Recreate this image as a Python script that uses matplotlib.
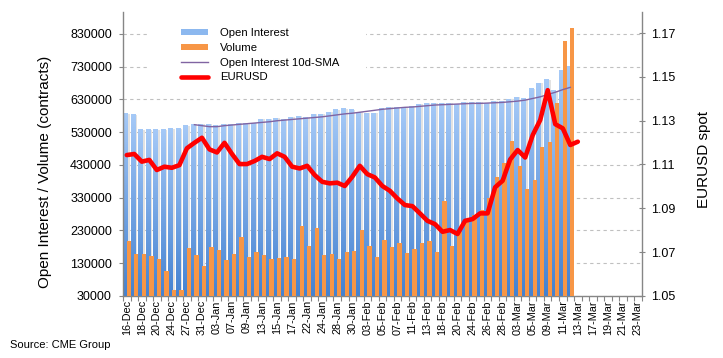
import numpy as np
import matplotlib
matplotlib.use('Agg')
import matplotlib.pyplot as plt
from matplotlib.colors import LinearSegmentedColormap
from matplotlib.lines import Line2D
from matplotlib.patches import Patch, Rectangle

plt.rcParams['font.family'] = ['Liberation Sans', 'DejaVu Sans']

categories = [
    '16-Dec', '17-Dec', '18-Dec', '19-Dec', '20-Dec', '23-Dec', '24-Dec', '26-Dec', '27-Dec', '30-Dec', '31-Dec',
    '02-Jan', '03-Jan', '06-Jan', '07-Jan', '08-Jan', '09-Jan', '10-Jan', '13-Jan', '14-Jan', '15-Jan', '16-Jan',
    '17-Jan', '21-Jan', '22-Jan', '23-Jan', '24-Jan', '27-Jan', '28-Jan', '29-Jan', '30-Jan', '31-Jan',
    '03-Feb', '04-Feb', '05-Feb', '06-Feb', '07-Feb', '10-Feb', '11-Feb', '12-Feb', '13-Feb', '14-Feb',
    '18-Feb', '19-Feb', '20-Feb', '21-Feb', '24-Feb', '25-Feb', '26-Feb', '27-Feb', '28-Feb',
    '02-Mar', '03-Mar', '04-Mar', '05-Mar', '06-Mar', '09-Mar', '10-Mar', '11-Mar', '12-Mar', '13-Mar',
    '16-Mar', '17-Mar', '18-Mar', '19-Mar', '20-Mar', '21-Mar', '22-Mar', '23-Mar',
]

open_interest = [
    586000, 583000, 537000, 537000, 537000, 537000, 540000, 540000, 549000, 555000,
    555000, 555000, 549000, 555000, 555000, 557000, 557000, 557000, 569000, 569000,
    572000, 569000, 575000, 579000, 575000, 585000, 585000, 591000, 598000, 601000,
    598000, 591000, 588000, 588000, 601000, 606000, 606000, 606000, 610000, 616000,
    618000, 618000, 618000, 618000, 615000, 621000, 622000, 621000, 618000, 624000,
    624000, 630000, 637000, 632000, 662000, 679000, 690000, 657000, 718000, 732000,
]

volume = [
    198000, 158000, 158000, 152000, 142000, 106000, 48000, 48000, 177000, 155000,
    123000, 181000, 170000, 140000, 158000, 211000, 150000, 165000, 155000, 143000,
    147000, 150000, 143000, 244000, 184000, 239000, 155000, 158000, 143000, 165000,
    167000, 231000, 183000, 150000, 201000, 181000, 191000, 160000, 173000, 191000,
    198000, 163000, 320000, 184000, 226000, 257000, 277000, 292000, 330000, 394000,
    435000, 504000, 428000, 356000, 384000, 486000, 501000, 620000, 809000, 847000,
]

# 10-day SMA of open interest (starts at the 10th session)
oi_sma = [
    553000, 550000, 547000, 547000, 550000, 552000, 554000, 556000, 558000, 560000,
    562000, 565000, 567000, 569000, 571000, 573000, 575000, 577000, 580000, 583000,
    586000, 588000, 591000, 594000, 597000, 600000, 602000, 604000, 606000, 607000,
    609000, 611000, 613000, 614000, 615000, 616000, 617000, 618000, 618000, 619000,
    620000, 621000, 623000, 625000, 628000, 633000, 638000, 645000, 652000, 660000,
    667000,
]

eurusd = [
    1.1143, 1.1148, 1.1113, 1.1121, 1.1075, 1.1090, 1.1085, 1.1097, 1.1174, 1.1199,
    1.1222, 1.1169, 1.1155, 1.1199, 1.1148, 1.1102, 1.1102, 1.1116, 1.1135, 1.1125,
    1.1151, 1.1135, 1.1090, 1.1082, 1.1094, 1.1052, 1.1021, 1.1014, 1.1017, 1.1002,
    1.1044, 1.1094, 1.1056, 1.1041, 1.1002, 1.0980, 1.0945, 1.0915, 1.0910, 1.0877,
    1.0843, 1.0828, 1.0793, 1.0801, 1.0783, 1.0843, 1.0851, 1.0877, 1.0877, 1.0996,
    1.1026, 1.1123, 1.1166, 1.1132, 1.1234, 1.1303, 1.1439, 1.1284, 1.1265, 1.1189,
    1.1204,
]

left_ticks = [30000, 130000, 230000, 330000, 430000, 530000, 630000, 730000, 830000]
right_ticks = [1.05, 1.07, 1.09, 1.11, 1.13, 1.15, 1.17]

W, H = 723, 358
fig = plt.figure(figsize=(W / 100, H / 100), dpi=100)
ax = fig.add_axes([123 / W, 62 / H, (641.7 - 123) / W, 284 / H])
ax2 = ax.twinx()

x_oi = np.arange(len(open_interest))
x_sma = np.arange(len(open_interest) - len(oi_sma), len(open_interest))
x_fx = np.arange(len(eurusd))

spine_col = '#868686'
# gridlines
ax.set_axisbelow(True)
ax.yaxis.grid(True, color='#c0c0c0', linestyle=(0, (3, 3)), linewidth=0.8)

# white legend background covering gridlines
bg = Rectangle(((150 - 123) / 518.7, (296 - 90) / 284), (366 - 150) / 518.7, (90 - 18) / 284,
               transform=ax.transAxes, facecolor='white', edgecolor='none', zorder=0.9)
ax.add_patch(bg)

# shadow behind open interest bars
ax.bar(x_oi + 0.12, open_interest, width=0.5, bottom=0, color='#e2e2e2', zorder=1.5)

# open interest bars with vertical gradient
blue_bars = ax.bar(x_oi - 0.22, open_interest, width=0.56, color='none', zorder=2)
cmap = LinearSegmentedColormap.from_list('oi', ['#3f7ecf', '#a5c9f7'])
grad = np.linspace(1, 0, 256).reshape(-1, 1)
for r in blue_bars:
    x0, w, h = r.get_x(), r.get_width(), r.get_height()
    ax.imshow(grad, cmap=cmap, extent=[x0, x0 + w, 0, h], aspect='auto',
              origin='upper', zorder=2, interpolation='bilinear')

# volume bars
ax.bar(x_oi + 0.27, volume, width=0.58, color='#f79646', zorder=3)

# SMA line
ax.plot(x_sma, oi_sma, color='#8064a2', lw=1.0, zorder=4)

# EURUSD
ax2.plot(x_fx, eurusd, color='#ff0000', lw=3.3, solid_joinstyle='round',
         solid_capstyle='round', zorder=5)

ax.set_xlim(-0.5, len(categories) - 0.5)
ax.set_ylim(30000, 897000)
ax2.set_ylim(1.05, 1.05 + 284 * 0.12 / 263)

ax.set_yticks(left_ticks)
ax.set_yticklabels([str(v) for v in left_ticks], fontsize=9)
ax2.set_yticks(right_ticks)
ax2.set_yticklabels(['%.2f' % v for v in right_ticks], fontsize=9)

ax.set_xticks(np.arange(0, len(categories), 2))
ax.set_xticklabels(categories[::2], rotation=90, fontsize=7.8)
ax.set_xticks(np.arange(-0.5, len(categories), 1), minor=True)
ax.tick_params(axis='x', which='major', length=0, pad=3)
ax.tick_params(axis='x', which='minor', length=3.5, color=spine_col, width=0.8)
ax.tick_params(axis='y', length=3, color=spine_col, width=0.8, pad=5)
ax2.tick_params(axis='y', direction='inout', length=4, color=spine_col, width=0.8, pad=5)

for a in (ax, ax2):
    a.spines['top'].set_visible(False)
    for s in ('left', 'right', 'bottom'):
        a.spines[s].set_color(spine_col)
        a.spines[s].set_linewidth(1.0)
ax.spines['right'].set_visible(False)
ax2.spines['left'].set_visible(False)
ax2.spines['bottom'].set_visible(False)

fig.text(45 / W, 1 - 172 / H, 'Open Interest / Volume (contracts)', rotation=90,
         ha='center', va='center', fontsize=11)
fig.text(704 / W, 1 - 160 / H, 'EURUSD spot', rotation=90, ha='center', va='center', fontsize=11)
fig.text(10 / W, 1 - 345 / H, 'Source: CME Group', ha='left', va='center', fontsize=8)

handles = [
    Patch(facecolor='#8cb8ef', edgecolor='none'),
    Patch(facecolor='#f79646', edgecolor='none'),
    Line2D([], [], color='#8064a2', lw=1.0),
    Line2D([], [], color='#ff0000', lw=3.3, solid_capstyle='round'),
]
labels = ['Open Interest', 'Volume', 'Open Interest 10d-SMA', 'EURUSD']
leg = ax2.legend(handles, labels, loc='upper left', bbox_to_anchor=(181 / W, 1 - 28 / H),
                 bbox_transform=fig.transFigure, frameon=False, fontsize=8.2,
                 handlelength=2.4, handleheight=0.45, handletextpad=1.0,
                 labelspacing=0.42, borderaxespad=0, borderpad=0)

fig.savefig('out.png', dpi=100)
